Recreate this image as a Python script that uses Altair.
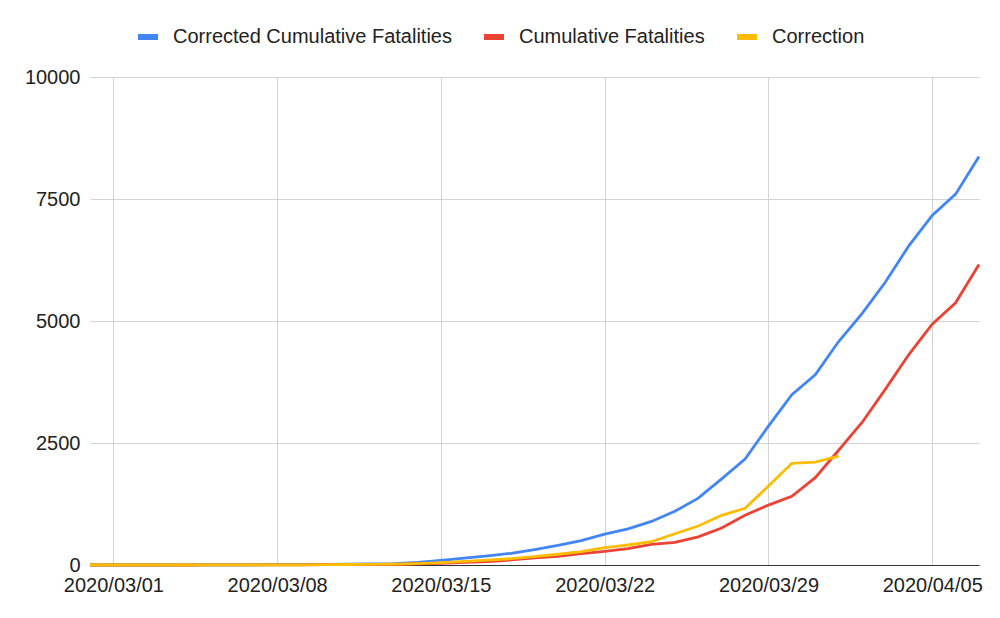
import altair as alt
import pandas as pd

dates = pd.date_range("2020-02-29", "2020-04-07", freq="D").strftime("%Y-%m-%d").tolist()

corrected = [0, 0, 0, 0, 0, 2, 4, 4, 6, 8, 12, 18, 20, 28, 51, 95, 140, 185, 240, 314, 400,
             500, 632, 740, 893, 1100, 1370, 1765, 2172, 2847, 3488, 3896, 4580, 5150, 5800,
             6540, 7165, 7600, 8370]
cumulative = [0, 0, 0, 0, 0, 1, 2, 2, 3, 4, 6, 8, 8, 10, 21, 35, 55, 71, 104, 144, 177,
              233, 281, 335, 422, 465, 578, 759, 1019, 1228, 1408, 1789, 2352, 2921, 3605,
              4313, 4934, 5373, 6159]
correction = [0, 0, 0, 0, 0, 1, 2, 2, 3, 4, 6, 10, 12, 18, 30, 50, 75, 100, 130, 170, 220,
              273, 355, 410, 477, 641, 799, 1018, 1161, 1619, 2084, 2110, 2233]

series_names = ["Corrected Cumulative Fatalities", "Cumulative Fatalities", "Correction"]
series_colors = ["#4285F4", "#EA4335", "#FBBC04"]
tick_dates = ["2020-03-01", "2020-03-08", "2020-03-15", "2020-03-22", "2020-03-29", "2020-04-05"]
y_ticks = [0, 2500, 5000, 7500, 10000]

rows = []
for name, vals in zip(series_names, [corrected, cumulative, correction]):
    for d, v in zip(dates, vals):
        rows.append({"date": d, "value": v, "series": name})
df = pd.DataFrame(rows)

FONT = "Liberation Sans"


def dt(s):
    y, m, d = [int(p) for p in s.split("-")]
    return alt.DateTime(year=y, month=m, date=d, utc=True)


x_enc = alt.X(
    "date:T",
    scale=alt.Scale(type="utc", domain=[dt("2020-02-29"), dt("2020-04-07")], nice=False),
    axis=alt.Axis(
        values=[dt(s) for s in tick_dates],
        labelExpr="utcFormat(datum.value, '%Y/%m/%d')",
        ticks=False,
        domain=True,
        domainColor="#333333",
        domainWidth=1,
        labelFont=FONT,
        labelFontSize=20,
        labelColor="#222222",
        labelPadding=10,
        labelFlush=False,
        labelOverlap=False,
        grid=True,
        gridColor="#d3d3d3",
        gridWidth=1,
        title=None,
    ),
)
y_enc = alt.Y(
    "value:Q",
    scale=alt.Scale(domain=[0, 10000], nice=False),
    axis=alt.Axis(
        values=y_ticks,
        format="d",
        ticks=False,
        domain=False,
        labelFont=FONT,
        labelFontSize=20,
        labelColor="#222222",
        labelPadding=10,
        gridColor="#d3d3d3",
        gridWidth=1,
        title=None,
    ),
)
color_enc = alt.Color(
    "series:N",
    scale=alt.Scale(domain=series_names, range=series_colors),
    legend=alt.Legend(
        orient="none",
        legendX=45,
        legendY=-53,
        direction="horizontal",
        title=None,
        symbolType="stroke",
        symbolSize=400,
        symbolStrokeWidth=6,
        labelFont=FONT,
        labelFontSize=20,
        labelColor="#222222",
        labelOffset=12,
        labelLimit=400,
        columnPadding=20,
        padding=0,
    ),
)

layers = []
for name in series_names:
    layers.append(
        alt.Chart(df)
        .transform_filter(alt.datum.series == name)
        .mark_line(strokeWidth=2.8)
        .encode(x=x_enc, y=y_enc, color=color_enc)
    )

chart = (
    alt.layer(*layers)
    .properties(
        width=889,
        height=488,
        autosize=alt.AutoSizeParams(type="none"),
        padding={"left": 82, "top": 69, "right": 13, "bottom": 45},
    )
    .configure_view(stroke=None)
)

chart.save("out.html", embed_options={"renderer": "svg", "actions": False})
